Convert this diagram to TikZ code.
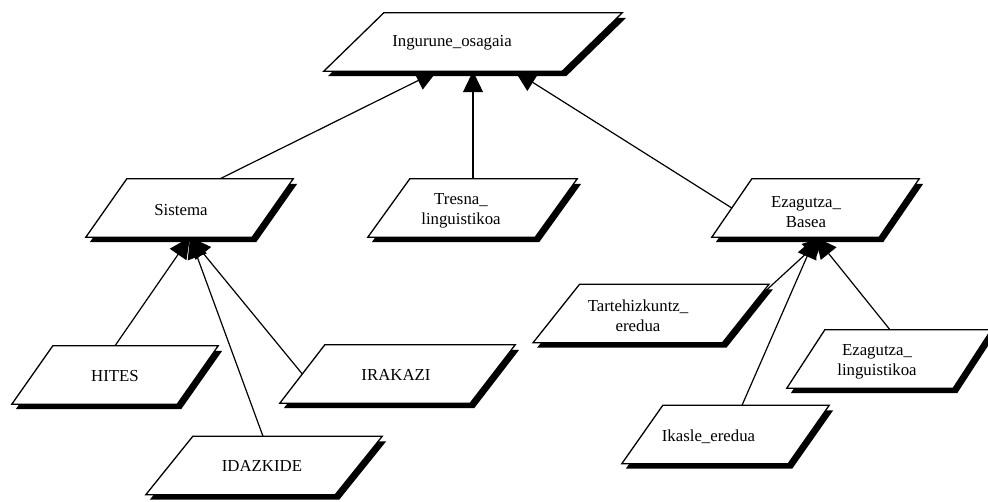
\documentclass[tikz,border=0pt]{standalone}
\usepackage{fontspec}
\setmainfont{Liberation Serif}
\usetikzlibrary{calc,arrows.meta}

% Parallelogram with a solid drop shadow, built on the body node #1 with slant #2
\newcommand\pgbox[2]{%
  \fill[black]
    ($(#1.south west)+(-0.5*#2+4,5)$) -- ($(#1.south east)+(-0.5*#2+4,5)$) --
    ($(#1.north east)+(0.5*#2+4,5)$) -- ($(#1.north west)+(0.5*#2+4,5)$) -- cycle;
  \draw[boxline]
    ($(#1.south west)+(-0.5*#2,0)$) -- ($(#1.south east)+(-0.5*#2,0)$) --
    ($(#1.north east)+(0.5*#2,0)$) -- ($(#1.north west)+(0.5*#2,0)$) -- cycle;
}

\tikzset{
  body/.style={rectangle, inner sep=0pt, minimum height=58pt, draw=none},
  boxline/.style={draw=black, fill=white, line width=1.3pt, line join=miter},
  lbl/.style={align=center, inner sep=0pt, font=\fontsize{16.8}{20}\selectfont},
  isa/.style={line width=1.2pt, -{Triangle[length=21pt,width=20pt]}},
}

\begin{document}
\begin{tikzpicture}[x=1pt,y=-1pt]
\useasboundingbox (0,0) rectangle (988,502);

% box bodies (centre, edge length)
\node[body, minimum width=238pt] (ing) at (473,42) {};
\node[body, minimum width=166pt] (sis) at (189.5,208) {};
\node[body, minimum width=167pt] (tre) at (472.5,208) {};
\node[body, minimum width=167pt] (ezb) at (815.5,208) {};
\node[body, minimum width=165pt] (hit) at (115,375) {};
\node[body, minimum width=189pt] (ida) at (264,465.5) {};
\node[body, minimum width=190pt] (ira) at (397.5,374) {};
\node[body, minimum width=189pt] (tar) at (651,313.5) {};
\node[body, minimum width=166pt] (ezl) at (889,359) {};
\node[body, minimum width=166pt] (ika) at (725.5,434.5) {};

% generalisation links
\draw[isa] ($(sis.north)+(30.5,0)$) -- ($(ing.south)+(-36,0)$);
\draw[isa] ($(tre.north)+(0.5,0)$) -- ($(ing.south)+(0,0)$);
\draw[isa] (ezb.west) -- ($(ing.south)+(42,0)$);

\draw[isa] (hit.north) -- ($(sis.south)+(0.5,0)$);
\draw[isa] ($(ida.north)+(-1,0)$) -- ($(sis.south)+(0.5,0)$);
\draw[isa] (ira.west) -- ($(sis.south)+(0.5,0)$);

\draw[isa] ($(tar.north east)+(20.5,6)$) -- ($(ezb.south)+(8.5,0)$);
\draw[isa] ($(ika.north)+(16.5,0)$) -- (ezb.south);
\draw[isa] ($(ezl.north)+(1,0)$) -- (ezb.south);

% boxes
\pgbox{ing}{60}
\pgbox{sis}{41}
\pgbox{tre}{42}
\pgbox{ezb}{40}
\pgbox{hit}{41}
\pgbox{ida}{47}
\pgbox{ira}{45}
\pgbox{tar}{46.5}
\pgbox{ezl}{38}
\pgbox{ika}{41}

% labels
\node[lbl] (ing-t) at (452,43)  {Ingurune\_osagaia};
\node[lbl] (sis-t) at (181,210) {Sistema};
\node[lbl] (tre-t) at (461,211) {Tresna\_\\linguistikoa};
\node[lbl] (ezb-t) at (806,212) {Ezagutza\_\\Basea};
\node[lbl] (hit-t) at (115,376) {HITES};
\node[lbl] (ida-t) at (262,466) {IDAZKIDE};
\node[lbl] (ira-t) at (396,375) {IRAKAZI};
\node[lbl] (tar-t) at (638,316) {Tartehizkuntz\_\\eredua};
\node[lbl] (ezl-t) at (877,362) {Ezagutza\_\\linguistikoa};
\node[lbl] (ika-t) at (708.5,437) {Ikasle\_eredua};
\end{tikzpicture}
\end{document}
